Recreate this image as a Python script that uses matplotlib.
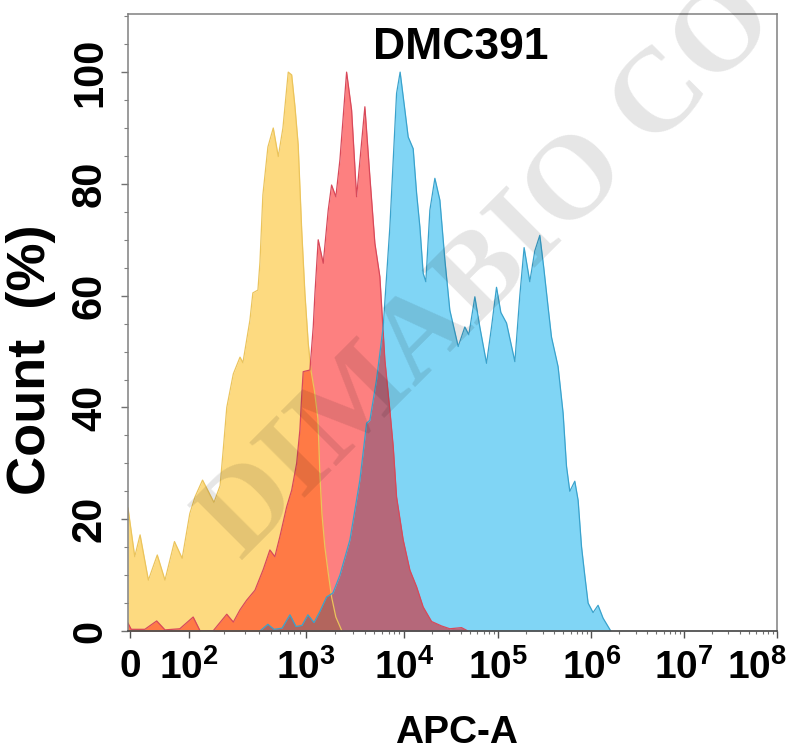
import numpy as np
import matplotlib
matplotlib.use("Agg")
import matplotlib.pyplot as plt
from matplotlib import ticker, font_manager, transforms

# APC-A intensity / count (%)
yellow_apc = [-3.4, 8, 17, 31, 46, 59, 75, 88, 101, 112, 130, 163, 184, 195, 210,
              239, 273, 289, 332, 352, 389, 405, 429, 474, 527, 582, 638, 709, 759,
              810, 863, 924, 986, 1063, 1132, 1229, 1334, 1397, 1465, 1571, 1698,
              1837, 2031, 2340]
yellow_count = [22, 13.3, 17.2, 9.1, 13.6, 9.1, 16.0, 13.0, 21, 24, 27, 23, 26, 32, 40,
                46, 49, 48, 55.6, 60.5, 61, 66, 78, 86.6, 90, 84.9, 90, 100, 99.5,
                93.8, 87, 72, 60.4, 51.5, 46.7, 43, 38, 28, 21, 15, 10.4,
                6.1, 2.5, 0]

red_apc = [-3.4, 2, 25, 45, 59, 84, 108, 124, 160, 210, 239, 273, 311, 367, 432, 493,
           544, 601, 687, 759, 837, 893, 924, 953, 1106, 1195, 1244, 1343, 1511, 1698,
           1837, 2031, 2234, 2612, 2937, 3302, 4009, 4507, 5067, 5697, 6405, 7201,
           7790, 8425, 9840, 11580, 13650, 16020, 19670, 25100, 30730, 40900, 47800]
red_count = [1.4, 0.3, 0.3, 1.8, 0.2, 0.4, 2.5, 0, 0, 3, 1.6, 3.8, 5.5, 7.3, 11, 14.5,
             13.3, 16.9, 22.2, 25.2, 30, 36, 41.9, 46.4, 46.7, 54.4, 60.4, 70, 65.8, 75.3,
             79.8, 77.7, 84.3, 100, 93.2, 77.7, 93.8, 81.3, 69.4, 63.4, 48.5, 39.5,
             33, 24, 16.3, 10.9, 7.9, 4.3, 1.7, 0.9, 0.4, 0.6, 0]

blue_apc = [405, 474, 535, 627, 733, 826, 931, 1055, 1216, 1397, 1635, 1896, 2234, 2823,
            3565, 4176, 4507, 5272, 6155, 7201, 7790, 8425, 9159, 10250, 11110, 12550,
            13650, 14790, 16020, 17100, 18870, 21320, 24090, 27220, 30730, 37700, 44330,
            48860, 56620, 63920, 75330, 85100, 96100, 106900, 123000, 151100, 170700,
            189800, 218300, 247000, 279500, 308200, 342700, 372800, 438800, 496500,
            539900, 585800, 662600, 719000, 782000, 847000, 920000, 1040000, 1178000,
            1334000, 1616000]
blue_count = [0, 1.2, 0.3, 0.5, 2.9, 0.8, 1, 2.9, 1.5, 3.5, 6.1, 6.8, 10, 16.3,
              27, 37.2, 37.7, 45, 54.4, 72.3, 84.3, 96.2, 100, 93.2, 88.4, 86.3,
              78.3, 72.3, 64, 62.5, 75.3, 81, 77.1, 66.4, 57.4, 50.9, 54.4,
              53, 59.8, 54.4, 47.9, 54.4, 61.5, 57, 55.1, 48.2, 60,
              68.6, 62.5, 68, 70.8, 65, 58, 52.6, 47.3, 39,
              29.5, 25, 26.8, 23.4, 15.1, 10, 5, 3.3, 4.6,
              2.3, 0]

x_tick_values = [0, 1e2, 1e3, 1e4, 1e5, 1e6, 1e7, 1e8]
x_tick_labels = ["0", "$10^{2}$", "$10^{3}$", "$10^{4}$", "$10^{5}$",
                 "$10^{6}$", "$10^{7}$", "$10^{8}$"]
y_tick_values = [0, 20, 40, 60, 80, 100]

# biexponential-like display scale (linear near zero, log above 100)
G_KNOTS = np.array([-2, 0, 2, 3, 4, 5, 6, 7, 8], dtype=float)
POS_KNOTS = np.array([70.7, 130, 189.3, 305.7, 404, 498.3, 591.7, 684.3, 777.3])


def to_g(x):
    x = np.asarray(x, dtype=float)
    a = np.maximum(np.abs(x), 1e-12)
    return np.where(a < 100, x / 50.0, np.sign(x) * np.log10(a))


def forward(x):
    return np.interp(to_g(x), G_KNOTS, POS_KNOTS)


def inverse(p):
    g = np.interp(np.asarray(p, dtype=float), POS_KNOTS, G_KNOTS)
    return np.where(np.abs(g) < 2, g * 50.0, np.sign(g) * 10 ** np.abs(g))


names = {f.name for f in font_manager.fontManager.ttflist}
sans = "Liberation Sans" if "Liberation Sans" in names else "DejaVu Sans"
serif = "Liberation Serif" if "Liberation Serif" in names else "DejaVu Serif"
plt.rcParams["font.family"] = [sans]
plt.rcParams["font.weight"] = "bold"
plt.rcParams["mathtext.fontset"] = "custom"
plt.rcParams["mathtext.rm"] = sans + ":bold"
plt.rcParams["mathtext.it"] = sans + ":bold"
plt.rcParams["mathtext.bf"] = sans + ":bold"

YEL, RED, BLU = "#FDDA80", "#FD8080", "#80D5F5"
YEL_RED, YEL_BLU, RED_BLU, ALL3 = "#FF7A45", "#7FB67B", "#B5687A", "#B3655D"

fig = plt.figure(figsize=(7.89, 7.51), dpi=100)
ax = fig.add_axes([128 / 789, 1 - 631 / 751, 649 / 789, 617 / 751])
ax.set_xscale("function", functions=(forward, inverse))
ax.set_xlim(-3.4, 1e8)
ax.set_ylim(0, 110.4)

# common grid in display space so overlaps can be shaded
p = np.linspace(forward(-3.4), forward(1.7e6), 3000)
xg = inverse(p)
yi = np.interp(p, forward(yellow_apc), yellow_count, left=0, right=0)
ri = np.interp(p, forward(red_apc), red_count, left=0, right=0)
bi = np.interp(p, forward(blue_apc), blue_count, left=0, right=0)

ax.fill_between(xg, 0, yi, color=YEL, lw=0)
ax.fill_between(xg, 0, ri, color=RED, lw=0)
ax.fill_between(xg, 0, bi, color=BLU, lw=0)
ax.fill_between(xg, 0, np.minimum(yi, ri), color=YEL_RED, lw=0)
ax.fill_between(xg, 0, np.minimum(yi, bi), color=YEL_BLU, lw=0)
ax.fill_between(xg, 0, np.minimum(ri, bi), color=RED_BLU, lw=0)
ax.fill_between(xg, 0, np.minimum(np.minimum(yi, ri), bi), color=ALL3, lw=0)

ax.plot(yellow_apc, yellow_count, color="#EBC45C", lw=0.9)
ax.plot(red_apc, red_count, color="#D8495A", lw=0.9)
ax.plot(blue_apc, blue_count, color="#3AA2CC", lw=0.9)

# axes styling
for side in ["top", "right", "left"]:
    ax.spines[side].set_color("#808080")
    ax.spines[side].set_linewidth(1.1)
ax.spines["bottom"].set_color("#505050")
ax.spines["bottom"].set_linewidth(1.3)

ax.xaxis.set_major_locator(ticker.FixedLocator(x_tick_values))
ax.xaxis.set_major_formatter(ticker.FixedFormatter(x_tick_labels))
minor_x = [m * 10.0 ** k for k in range(2, 8) for m in range(2, 10)]
ax.xaxis.set_minor_locator(ticker.FixedLocator(minor_x))
ax.set_yticks(y_tick_values)
ax.yaxis.set_minor_locator(ticker.MultipleLocator(5))

ax.tick_params(axis="x", which="major", length=5, width=1, color="#505050",
               labelsize=28, pad=8)
ax.tick_params(axis="x", which="minor", length=2.5, width=0.8, color="#707070")
ax.tick_params(axis="y", which="major", length=5, width=1, color="#707070",
               labelsize=30, pad=8, labelrotation=90)
ax.tick_params(axis="y", which="minor", length=3, width=0.8, color="#808080")
for lab in ax.get_yticklabels():
    lab.set_verticalalignment("center")
last = ax.get_xticklabels()[-1]
last.set_transform(last.get_transform() +
                   transforms.ScaledTranslation(-0.2, 0, fig.dpi_scale_trans))

ax.text(0.513, 0.945, "DMC391", transform=ax.transAxes, ha="center", va="center",
        fontsize=32, fontweight="bold")
fig.text(31 / 789, 1 - 360 / 751, "Count  (%)", rotation=90, ha="center",
         va="center", fontsize=39, fontweight="bold")
fig.text(457 / 789, 1 - 733 / 751, "APC-A", ha="center", va="center",
         fontsize=28, fontweight="bold")

# watermark (cut by the figure edge as in the original)
fig.text(490 / 789, 1 - 272 / 751, "DIMABIO CO", rotation=45, ha="center",
         va="center", rotation_mode="anchor", fontsize=86, fontweight="bold",
         family=serif, color="black", alpha=0.10, zorder=10)

fig.savefig("out.png", dpi=100)
plt.close(fig)
